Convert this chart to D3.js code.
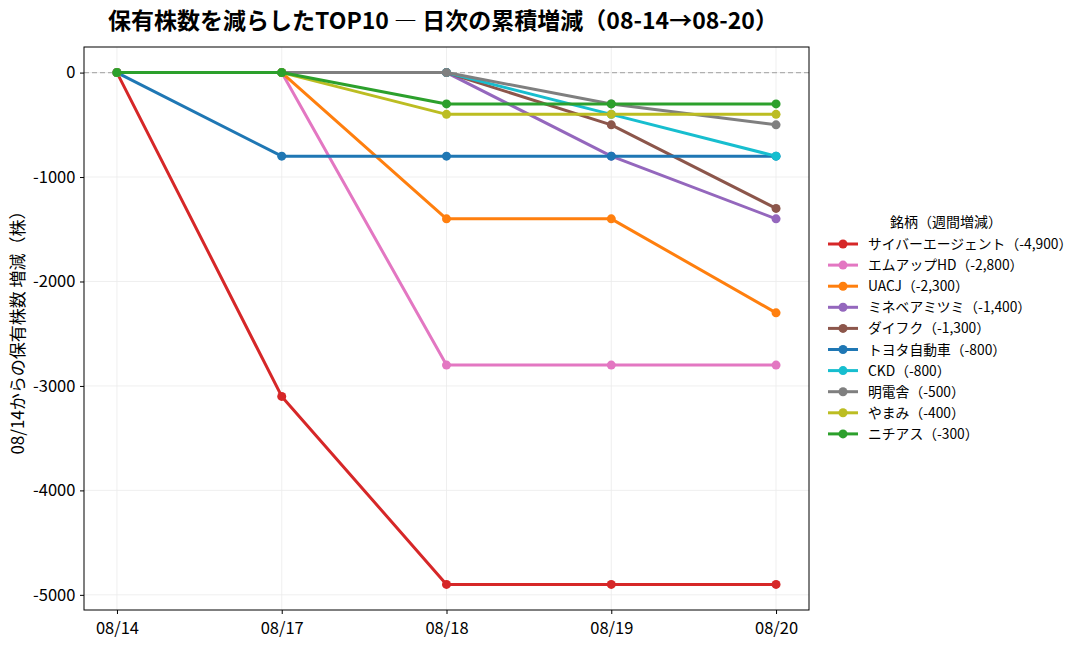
<!DOCTYPE html>
<html lang="ja"><head><meta charset="utf-8">
<script src="https://cdn.jsdelivr.net/npm/d3@7"></script>
<style>body{margin:0;background:#fff}svg{font-family:"Noto Sans CJK JP","Noto Sans",sans-serif}</style>
</head><body><svg id="c" width="1087" height="649"></svg>
<script>
const dates = ["08/14","08/17","08/18","08/19","08/20"];
const names = ["サイバーエージェント","エムアップHD","UACJ","ミネベアミツミ","ダイフク","トヨタ自動車","CKD","明電舎","やまみ","ニチアス"];
const weekly = ["-4,900","-2,800","-2,300","-1,400","-1,300","-800","-800","-500","-400","-300"];
const colors = ["#d62728","#e377c2","#ff7f0e","#9467bd","#8c564b","#1f77b4","#17becf","#7f7f7f","#bcbd22","#2ca02c"];
const s1 = [0,-3100,-4900,-4900,-4900];
const s2 = [0,0,-2800,-2800,-2800];
const s3 = [0,0,-1400,-1400,-2300];
const s4 = [0,0,0,-800,-1400];
const s5 = [0,0,0,-500,-1300];
const s6 = [0,-800,-800,-800,-800];
const s7 = [0,0,0,-400,-800];
const s8 = [0,0,0,-300,-500];
const s9 = [0,0,-400,-400,-400];
const s10 = [0,0,-300,-300,-300];
const yTicks = [0,-1000,-2000,-3000,-4000,-5000];
const series = [s1,s2,s3,s4,s5,s6,s7,s8,s9,s10];

const svg = d3.select("#c");
const L=84,R=809,T=47,B=610;
const x = d3.scaleLinear().domain([-0.2,4.2]).range([L,R]);
const y = d3.scaleLinear().domain([-5145,245]).range([B,T]);

// grid
const g = svg.append("g");
g.selectAll(".gx").data(dates).enter().append("line")
 .attr("x1",(d,i)=>x(i)).attr("x2",(d,i)=>x(i)).attr("y1",T).attr("y2",B)
 .attr("stroke","#ebebeb").attr("stroke-width",0.8);
g.selectAll(".gy").data(yTicks).enter().append("line")
 .attr("x1",L).attr("x2",R).attr("y1",d=>y(d)).attr("y2",d=>y(d))
 .attr("stroke","#ebebeb").attr("stroke-width",0.8);
// zero dashed
svg.append("line").attr("x1",L).attr("x2",R).attr("y1",y(0)).attr("y2",y(0))
 .attr("stroke","#b0b0b0").attr("stroke-width",1.2).attr("stroke-dasharray","5,3");

// axes
const xa = svg.append("g").attr("transform",`translate(0,${B})`)
 .call(d3.axisBottom(x).tickValues([0,1,2,3,4]).tickFormat(i=>dates[i]).tickSize(4).tickSizeOuter(0));
const ya = svg.append("g").attr("transform",`translate(${L},0)`)
 .call(d3.axisLeft(y).tickValues(yTicks).tickFormat(d=>d===0?"0":String(d)).tickSize(4).tickSizeOuter(0));
[xa,ya].forEach(a=>{a.attr("font-family",null);a.select(".domain").remove();a.selectAll("text").attr("font-size",16.5).attr("fill","#000");a.selectAll("line").attr("stroke","#000");});
xa.selectAll("text").attr("dy","1.05em");
ya.selectAll("text").attr("dx","-0.1em");

// lines
const line = d3.line().x((d,i)=>x(i)).y(d=>y(d));
series.forEach((s,k)=>{
  svg.append("path").datum(s).attr("d",line).attr("fill","none")
   .attr("stroke",colors[k]).attr("stroke-width",3).attr("stroke-linejoin","round");
  svg.selectAll(null).data(s).enter().append("circle")
   .attr("cx",(d,i)=>x(i)).attr("cy",d=>y(d)).attr("r",4.5).attr("fill",colors[k]);
});

// frame
svg.append("rect").attr("x",L).attr("y",T).attr("width",R-L).attr("height",B-T)
 .attr("fill","none").attr("stroke","#000").attr("stroke-width",1);

// title
svg.append("text").attr("x",443).attr("y",29).attr("text-anchor","middle")
 .attr("font-size",23).attr("font-weight","bold").text("保有株数を減らしたTOP10 ― 日次の累積増減（08-14→08-20）");
// y label
svg.append("text").attr("transform",`translate(24,${(T+B)/2}) rotate(-90)`).attr("text-anchor","middle")
 .attr("font-size",17).text("08/14からの保有株数 増減（株）");

// legend
const lg = svg.append("g");
lg.append("text").attr("x",946).attr("y",227).attr("text-anchor","middle").attr("font-size",14).text("銘柄（週間増減）");
names.forEach((n,k)=>{
  const yy = 244 + k*21.1;
  lg.append("line").attr("x1",828).attr("x2",858).attr("y1",yy).attr("y2",yy).attr("stroke",colors[k]).attr("stroke-width",3);
  lg.append("circle").attr("cx",843).attr("cy",yy).attr("r",4.5).attr("fill",colors[k]);
  lg.append("text").attr("x",868).attr("y",yy+5).attr("font-size",13.8).text(`${n}（${weekly[k]}）`);
});
</script></body></html>
